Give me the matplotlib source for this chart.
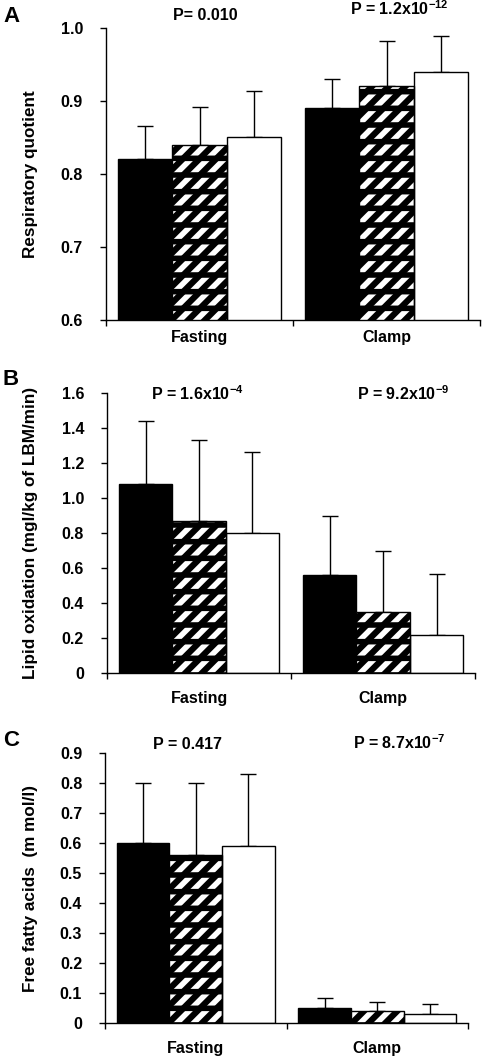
import matplotlib
matplotlib.use("Agg")
import matplotlib.pyplot as plt
import numpy as np

plt.rcParams['font.family'] = ['Liberation Sans', 'DejaVu Sans']
plt.rcParams['font.weight'] = 'bold'
plt.rcParams['mathtext.fontset'] = 'custom'
plt.rcParams['mathtext.rm'] = 'Liberation Sans:bold'
plt.rcParams['mathtext.bf'] = 'Liberation Sans:bold'
plt.rcParams['mathtext.default'] = 'bf'

categories = ["Fasting", "Clamp"]

# Panel A: Respiratory quotient
rq_black = [0.82, 0.89]
rq_hatch = [0.84, 0.92]
rq_white = [0.85, 0.94]
rq_black_err = [0.046, 0.040]
rq_hatch_err = [0.052, 0.062]
rq_white_err = [0.064, 0.049]
rq_ticks = [0.6, 0.7, 0.8, 0.9, 1.0]
rq_ticklabels = ["0.6", "0.7", "0.8", "0.9", "1.0"]
rq_p = ["P= 0.010", r"P = 1.2x10$^{-12}$"]

# Panel B: Lipid oxidation
lo_black = [1.08, 0.56]
lo_hatch = [0.87, 0.35]
lo_white = [0.80, 0.22]
lo_black_err = [0.36, 0.34]
lo_hatch_err = [0.46, 0.35]
lo_white_err = [0.465, 0.345]
lo_ticks = [0, 0.2, 0.4, 0.6, 0.8, 1.0, 1.2, 1.4, 1.6]
lo_ticklabels = ["0", "0.2", "0.4", "0.6", "0.8", "1.0", "1.2", "1.4", "1.6"]
lo_p = [r"P = 1.6x10$^{-4}$", r"P = 9.2x10$^{-9}$"]

# Panel C: Free fatty acids
ffa_black = [0.60, 0.05]
ffa_hatch = [0.56, 0.04]
ffa_white = [0.59, 0.03]
ffa_black_err = [0.20, 0.033]
ffa_hatch_err = [0.24, 0.030]
ffa_white_err = [0.24, 0.035]
ffa_ticks = [0, 0.1, 0.2, 0.3, 0.4, 0.5, 0.6, 0.7, 0.8, 0.9]
ffa_ticklabels = ["0", "0.1", "0.2", "0.3", "0.4", "0.5", "0.6", "0.7", "0.8", "0.9"]
ffa_p = ["P = 0.417", r"P = 8.7x10$^{-7}$"]

W, H = 482, 1060
fig = plt.figure(figsize=(W / 100, H / 100), dpi=100)

panels = [
    dict(rect=[0.220, 0.6981, 0.776, 0.2755], black=rq_black, hatch=rq_hatch, white=rq_white,
         errs=(rq_black_err, rq_hatch_err, rq_white_err), ticks=rq_ticks, tl=rq_ticklabels,
         ylim=(0.6, 1.0), ylabel="Respiratory quotient", p=rq_p, letter="A",
         pxs=[0.03, 1.07], pdy=[8, 13], letter_y=16, ylabel_x=-0.182, xpad=7),
    dict(rect=[0.222, 0.3651, 0.764, 0.2641], black=lo_black, hatch=lo_hatch, white=lo_white,
         errs=(lo_black_err, lo_hatch_err, lo_white_err), ticks=lo_ticks, tl=lo_ticklabels,
         ylim=(0, 1.6), ylabel="Lipid oxidation (mgl/kg of LBM/min)", p=lo_p, letter="B",
         pxs=[-0.01, 1.106], pdy=[-7, -7], letter_y=380, ylabel_x=-0.1875, xpad=13),
    dict(rect=[0.218, 0.0349, 0.753, 0.2547], black=ffa_black, hatch=ffa_hatch, white=ffa_white,
         errs=(ffa_black_err, ffa_hatch_err, ffa_white_err), ticks=ffa_ticks, tl=ffa_ticklabels,
         ylim=(0, 0.9), ylabel="Free fatty acids  (m mol/l)", p=ffa_p, letter="C",
         pxs=[-0.045, 1.12], pdy=[4, 4], letter_y=740, ylabel_x=-0.185, xpad=13),
]

x = np.arange(len(categories))
w = 0.29
fs = 11.5

for pn in panels:
    ax = fig.add_axes(pn['rect'])
    eb, eh, ew = pn['errs']
    # black bars
    ax.bar(x - w, pn['black'], w, color='black', edgecolor='black', linewidth=1.0, zorder=2)
    # hatched bars: black face with white diagonal strokes, black horizontal bands
    b1 = ax.bar(x, pn['hatch'], w, color='black', edgecolor='white', linewidth=0, hatch='//', zorder=2)
    b2 = ax.bar(x, pn['hatch'], w, color='none', edgecolor='black', linewidth=0, hatch='-', zorder=2.1)
    for p in b1:
        if hasattr(p, 'set_hatch_linewidth'):
            p.set_hatch_linewidth(4.0)
    for p in b2:
        if hasattr(p, 'set_hatch_linewidth'):
            p.set_hatch_linewidth(4.0)
    ax.bar(x, pn['hatch'], w, color='none', edgecolor='black', linewidth=1.0, zorder=2.2)
    # white bars
    ax.bar(x + w, pn['white'], w, color='white', edgecolor='black', linewidth=1.0, zorder=2)
    # error bars (upper only)
    for off, vals, errs in [(-w, pn['black'], eb), (0, pn['hatch'], eh), (w, pn['white'], ew)]:
        ax.errorbar(x + off, vals, yerr=[np.zeros(len(errs)), errs], fmt='none',
                    ecolor='black', elinewidth=1.0, capsize=5.5, capthick=1.0, zorder=1)
    ax.set_xlim(-0.5, 1.5)
    ax.set_ylim(*pn['ylim'])
    ax.set_yticks(pn['ticks'])
    ax.set_yticklabels(pn['tl'], fontsize=fs, fontweight='bold')
    ax.set_xticks([-0.5, 0.5, 1.5])
    ax.set_xticklabels([])
    ax.set_xticks(x, minor=True)
    ax.set_xticklabels(categories, minor=True, fontsize=fs, fontweight='bold')
    ax.tick_params(axis='x', which='major', direction='out', length=4, width=1)
    ax.tick_params(axis='x', which='minor', length=0, pad=pn['xpad'])
    ax.tick_params(axis='y', direction='out', length=4, width=1, pad=12.5)
    for s in ['top', 'right']:
        ax.spines[s].set_visible(False)
    for s in ['left', 'bottom']:
        ax.spines[s].set_linewidth(1.0)
    ax.set_ylabel(pn['ylabel'], fontsize=12.3, fontweight='bold')
    ax.yaxis.set_label_coords(pn['ylabel_x'], 0.5)
    for px, dy, txt in zip(pn['pxs'], pn['pdy'], pn['p']):
        ax.annotate(txt, xy=(px, 1.0), xycoords=('data', 'axes fraction'),
                    xytext=(0, dy), textcoords='offset pixels', ha='center', va='baseline',
                    fontsize=fs, fontweight='bold', annotation_clip=False)
    fig.text(3 / W, 1 - pn['letter_y'] / H, pn['letter'], ha='left', va='center',
             fontsize=16, fontweight='bold')

fig.savefig("out.png", dpi=100)
